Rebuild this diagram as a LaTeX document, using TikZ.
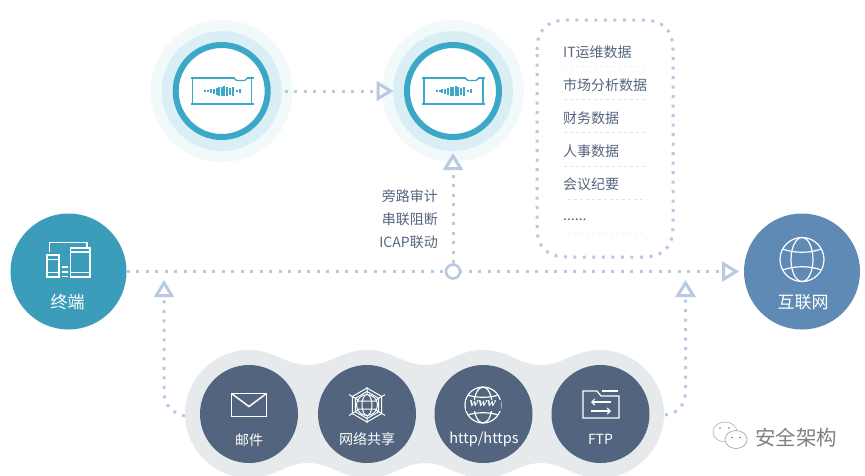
\documentclass[tikz,border=0pt]{standalone}
\usepackage{fontspec}
\setmainfont{Noto Sans CJK SC}
\newfontfamily\wwwfont{Liberation Serif}
\usetikzlibrary{arrows.meta}
\definecolor{ringc}{HTML}{3BA8C8}
\definecolor{midc}{HTML}{DAEFF5}
\definecolor{halo}{HTML}{F2F9FB}
\definecolor{termc}{HTML}{3C9DBA}
\definecolor{netc}{HTML}{5F8AB5}
\definecolor{darkc}{HTML}{53647F}
\definecolor{blobc}{HTML}{E7EAED}
\definecolor{dotc}{HTML}{B9C9E2}
\definecolor{txtc}{HTML}{56657F}
\definecolor{sepc}{HTML}{DFE3EA}
\tikzset{
  disc/.style={circle,inner sep=0pt,minimum size=#1*2pt},
  flow/.style={draw=dotc,line width=3pt,dash pattern=on 3pt off 6.5pt},
  head/.style={-{Triangle[open,length=17pt,width=20pt,line width=3pt,color=dotc]}},
  lab/.style={text=txtc,font=\fontsize{14}{14}\selectfont,inner sep=0pt},
  listlab/.style={lab,anchor=west},
  whitelab/.style={text=white,inner sep=0pt,font=\fontsize{14}{14}\selectfont},
  biglab/.style={text=white,inner sep=0pt,font=\fontsize{17}{17}\selectfont},
  ico/.style={draw=white,line width=1.2pt,line join=miter},
  sepline/.style={draw=sepc,line width=0.7pt,dash pattern=on 3pt off 3pt},
  cardicon/.pic={
    \draw[ringc,line width=1.5pt] (-31,-13)--(32,-13) (-31,13)--(32,13);
    \draw[ringc,line width=1.5pt] (-29,-13)--(-29,13) (30,-13)--(30,13);
    \draw[white,line width=2.2pt] (13,-13)--(25,-13);
    \draw[ringc,line width=1.3pt] (12,-13)--(15,-10.5)--(23,-10.5)--(26,-13);
    \foreach \px/\ph in {-16.5/1.8,-13.5/2.5,-11/3.5,-8/5,-5/7,-2.5/9,0/9,2.5/10,5/9,8/7,11/9,15/2.5,18/4}
      \fill[ringc] (\px-1,-\ph/2)rectangle(\px+1,\ph/2);
  },
  globeicon/.pic={
    \draw[ico] (0,0) circle (#1);
    \draw[ico] (0,0) ellipse (0.5*#1 and #1);
    \draw[ico] (-0.88*#1,-0.48*#1) .. controls (-0.4*#1,-0.28*#1) and (0.4*#1,-0.28*#1) .. (0.88*#1,-0.48*#1);
    \draw[ico] (-0.88*#1,0.48*#1) .. controls (-0.4*#1,0.28*#1) and (0.4*#1,0.28*#1) .. (0.88*#1,0.48*#1);
  }
}
\begin{document}
\begin{tikzpicture}[x=1pt,y=-1pt]
\clip (0,0) rectangle (865,475);
\fill[white] (0,0) rectangle (865,475);
% grey band
\fill[blobc] (185,414) .. controls (185,379) and (214,350) .. (249,350)
  .. controls (275,350) and (285,365) .. (308,365)
  .. controls (331,365) and (341,350) .. (367,350)
  .. controls (393,350) and (403,365) .. (425,365)
  .. controls (447,365) and (457,350) .. (483,350)
  .. controls (509,350) and (519,365) .. (541,365)
  .. controls (563,365) and (574,350) .. (600,350)
  .. controls (635,350) and (664,379) .. (664,414)
  .. controls (664,449) and (635,478) .. (600,478)
  .. controls (574,478) and (563,463) .. (541,463)
  .. controls (519,463) and (509,478) .. (483,478)
  .. controls (457,478) and (447,463) .. (425,463)
  .. controls (403,463) and (393,478) .. (367,478)
  .. controls (341,478) and (331,463) .. (308,463)
  .. controls (285,463) and (275,478) .. (249,478)
  .. controls (214,478) and (185,449) .. (185,414) -- cycle;
% sensors
\foreach \nm/\cx in {a/221.7,b/453}{
  \node[disc=71,fill=halo] at (\cx,91) {};
  \node[disc=60,fill=midc] (\nm) at (\cx,91) {};
  \node[disc=46,fill=white,draw=ringc,line width=6pt] at (\cx,91) {};
  \pic at (\cx,91) {cardicon};
}
% end points
\node[disc=58,fill=termc] (term) at (68.5,271.5) {};
\node[disc=58,fill=netc] (net) at (802,271.5) {};
\node[disc=49,fill=darkc] (mail) at (249,414) {};
\node[disc=49,fill=darkc] (share) at (367,414) {};
\node[disc=49,fill=darkc] (web) at (483.5,414) {};
\node[disc=49,fill=darkc] (ftp) at (600.5,414) {};
% connectors
\coordinate (tipR) at (739,271.5);
\coordinate (tipB) at (393.5,91);
\coordinate (tipU) at (453,153);
\coordinate (tipL) at (164,280);
\coordinate (tipF) at (685.5,280);
\coordinate (startL) at (185,416);
\coordinate (startF) at (665,415);
\draw[flow,head] ([xshift=3pt]a.east) -- (tipB);
\draw[flow,head] (term.east) -- (tipR);
\node[disc=7,fill=white,draw=dotc,line width=2.6pt] (hub) at (453,271.5) {};
\draw[flow,head] (hub.north) -- (tipU);
\draw[flow,head] (startL) .. controls (173,414) and (164,405) .. (164,392) -- (tipL);
\draw[flow,head] (startF) .. controls (677,414) and (685.5,405) .. (685.5,392) -- (tipF);
% data box
\draw[flow] (537,50) .. controls (537,30) and (547,20) .. (567,20) -- (643,20)
  .. controls (663,20) and (673,30) .. (673,50) -- (673,227)
  .. controls (673,247) and (663,257) .. (643,257) -- (567,257)
  .. controls (547,257) and (537,247) .. (537,227) -- cycle;
\node[listlab] (l1) at (563,52.5) {IT运维数据};
\node[listlab] (l2) at (563,85.5) {市场分析数据};
\node[listlab] (l3) at (563,118) {财务数据};
\node[listlab] (l4) at (563,151) {人事数据};
\node[listlab] (l5) at (563,184) {会议纪要};
\node[listlab] (l6) at (563,220) {......};
\draw[sepline,draw=sepc!50] (564,66)--(645,66);
\draw[sepline] (564,99)--(645,99);
\draw[sepline] (564,132)--(645,132);
\draw[sepline] (564,166)--(645,166);
\draw[sepline] (568,199)--(647,199);
\draw[sepline,draw=sepc!50] (568,233)--(645,233);
% mode labels
\node[lab,anchor=east] (m1) at (438,196) {旁路审计};
\node[lab,anchor=east] (m2) at (438,219) {串联阻断};
\node[lab,anchor=east] (m3) at (438,242) {ICAP联动};
% terminal icon
\draw[ico] (47,255) rectangle (59,277) (47,259.5)--(59,259.5) (47,272.5)--(59,272.5);
\draw[ico] (70.5,248) rectangle (90,277) (70.5,252)--(90,252) (70.5,272.5)--(90,272.5);
\draw[ico] (49.5,252) -- (49.5,242.5) -- (87,242.5) -- (87,248);
\draw[ico] (61.5,267)--(67.5,267) (61.5,272)--(67.5,272) (61.5,276.5)--(67.5,276.5);
\node[biglab] (tl) at (67.5,302) {终端};
% internet icon
\pic at (802,259.5) {globeicon={22}};
\node[biglab] (nl) at (803,302.5) {互联网};
% mail icon
\draw[ico,line width=1.5pt] (231.5,393.5) rectangle (266.5,416.5);
\draw[ico,line width=1.5pt] (231.5,393.5) -- (249,406.5) -- (266.5,393.5);
\node[whitelab] (ml) at (249,440) {邮件};
% web icon
\begin{scope}[shift={(367,405)}]
  \draw[ico,line width=1pt] (0,-18)--(0,18) (-18,-10.4)--(18,10.4) (-18,10.4)--(18,-10.4);
  \draw[ico,line width=1pt] (30:17)--(90:17)--(150:17)--(210:17)--(270:17)--(330:17)--cycle;
  \draw[ico,line width=1pt] (30:13.5)--(90:13.5)--(150:13.5)--(210:13.5)--(270:13.5)--(330:13.5)--cycle;
  \fill[darkc] (0,0) circle (10.5);
  \draw[ico,line width=1pt] (0,0) circle (10.5) (0,0) ellipse (5 and 10.5) (-9.5,-4)--(9.5,-4) (-9.5,4)--(9.5,4);
\end{scope}
\node[whitelab] (sl) at (367,439) {网络共享};
% www icon
\draw[ico] (483,405) circle (18);
\draw[ico] (483,405) ellipse (9 and 18);
\draw[ico] (468,395) .. controls (475,398) and (491,398) .. (498,395);
\draw[ico] (468,415) .. controls (475,412) and (491,412) .. (498,415);
\fill[darkc] (465.5,399.5) rectangle (500.5,410.5);
\node[text=white,inner sep=0pt,font=\wwwfont\fontsize{13}{13}\selectfont\bfseries\itshape] (wl) at (483,404) {www};
\node[text=white,inner sep=0pt,font=\fontsize{14.5}{15}\selectfont] (hl) at (484,439.5) {http/https};
% ftp icon
\draw[ico] (583,391) -- (597,391) -- (601,396) -- (619,396) -- (619,418) -- (583,418) -- cycle;
\draw[ico] (602,391) -- (618,391);
\draw[ico,line width=1.1pt,-{Straight Barb[length=3pt,width=6pt]}] (611,402) -- (591,402);
\draw[ico,line width=1.1pt,-{Straight Barb[length=3pt,width=6pt]}] (591,411) -- (611,411);
\node[whitelab] (fl) at (600.5,439) {FTP};
% watermark
\draw[gray!55,line width=0.7pt,fill=white] (725,432) ellipse (12 and 10);
\draw[gray!70,line width=0.7pt,fill=white] (736,439.5) ellipse (11 and 9);
\fill[gray] (720,428) circle (0.9) (729,428) circle (0.9) (732,437.5) circle (0.8) (740,437.5) circle (0.8);
\node[text=black!50,inner sep=0pt,font=\fontsize{20.5}{20.5}\selectfont] (wm) at (796,438) {安全架构};
\end{tikzpicture}
\end{document}
